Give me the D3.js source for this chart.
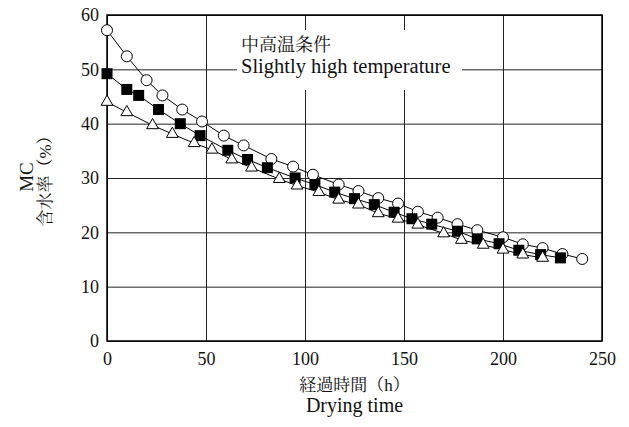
<!DOCTYPE html>
<html>
<head>
<meta charset="utf-8">
<script src="https://cdn.jsdelivr.net/npm/d3@7"></script>
<style>
  body { margin: 0; background: #fff; }
  text { font-family: "Liberation Serif", "Noto Serif CJK JP", "Noto Sans CJK JP", serif; fill: #111; }
</style>
</head>
<body>
<div id="chart"></div>
<script>
// drying curves, slightly high temperature
const circles = [
  {t: 0, mc: 57.2}, {t: 10, mc: 52.4}, {t: 20, mc: 48.0}, {t: 28, mc: 45.2},
  {t: 38, mc: 42.6}, {t: 48, mc: 40.4}, {t: 59, mc: 37.8}, {t: 69, mc: 36.0},
  {t: 83, mc: 33.5}, {t: 94, mc: 32.1}, {t: 104, mc: 30.6}, {t: 117, mc: 28.8},
  {t: 127, mc: 27.6}, {t: 137, mc: 26.3}, {t: 147, mc: 25.3}, {t: 157, mc: 23.8},
  {t: 167, mc: 22.7}, {t: 177, mc: 21.5}, {t: 187, mc: 20.4}, {t: 200, mc: 19.1},
  {t: 210, mc: 17.8}, {t: 220, mc: 17.1}, {t: 230, mc: 16.0}, {t: 240, mc: 15.1}
];

const squares = [
  {t: 0, mc: 49.2}, {t: 10, mc: 46.3}, {t: 16, mc: 45.2}, {t: 26, mc: 42.6},
  {t: 37, mc: 40.0}, {t: 47, mc: 37.8}, {t: 61, mc: 35.1}, {t: 71, mc: 33.4},
  {t: 81, mc: 31.9}, {t: 95, mc: 30.0}, {t: 105, mc: 28.8}, {t: 115, mc: 27.4},
  {t: 125, mc: 26.2}, {t: 135, mc: 25.1}, {t: 145, mc: 23.7}, {t: 154, mc: 22.5},
  {t: 164, mc: 21.5}, {t: 177, mc: 20.2}, {t: 187, mc: 18.8}, {t: 198, mc: 17.9},
  {t: 208, mc: 16.7}, {t: 219, mc: 15.9}, {t: 229, mc: 15.3}
];

const triangles = [
  {t: 0, mc: 44.0}, {t: 10, mc: 42.1}, {t: 23, mc: 39.7}, {t: 33, mc: 38.1},
  {t: 44, mc: 36.4}, {t: 53, mc: 35.2}, {t: 63, mc: 33.4}, {t: 73, mc: 31.9},
  {t: 87, mc: 29.8}, {t: 96, mc: 28.6}, {t: 107, mc: 27.4}, {t: 117, mc: 26.0},
  {t: 127, mc: 25.1}, {t: 137, mc: 23.5}, {t: 147, mc: 22.5}, {t: 157, mc: 21.4},
  {t: 170, mc: 19.8}, {t: 179, mc: 18.6}, {t: 190, mc: 17.7}, {t: 200, mc: 16.8},
  {t: 210, mc: 15.9}, {t: 220, mc: 15.3}
];

const xTicks = [0, 50, 100, 150, 200, 250];
const yTicks = [0, 10, 20, 30, 40, 50, 60];

const margin = {top: 15, right: 27, bottom: 86, left: 107},
    width = 629 - margin.left - margin.right,
    height = 427 - margin.top - margin.bottom;

const svg = d3.select("#chart")
  .append("svg")
    .attr("width", 629)
    .attr("height", 427)
  .append("g")
    .attr("transform", `translate(${margin.left},${margin.top})`);

const x = d3.scaleLinear().domain([0, 250]).range([0, width]);
const y = d3.scaleLinear().domain([0, 60]).range([height, 0]);

// grid
svg.append("g")
  .call(d3.axisBottom(x).tickValues(xTicks).tickSize(-height).tickFormat(""))
  .attr("transform", `translate(0,${height})`)
  .call(g => g.select(".domain").remove())
  .selectAll("line").attr("stroke", "#222").attr("stroke-width", 1);

svg.append("g")
  .call(d3.axisLeft(y).tickValues(yTicks).tickSize(-width).tickFormat(""))
  .call(g => g.select(".domain").remove())
  .selectAll("line").attr("stroke", "#222").attr("stroke-width", 1);

// white box behind the condition label
svg.append("rect")
  .attr("x", 130).attr("y", 15)
  .attr("width", 225).attr("height", 60)
  .attr("fill", "#fff");

svg.append("text")
  .attr("x", 134).attr("y", 36)
  .style("font-size", "18px")
  .text("中高温条件");
svg.append("text")
  .attr("x", 134).attr("y", 58)
  .style("font-size", "20.5px")
  .text("Slightly high temperature");

// frame
svg.append("rect")
  .attr("width", width).attr("height", height)
  .attr("fill", "none").attr("stroke", "#000").attr("stroke-width", 1.5);

// tick labels
const xAxis = svg.append("g")
  .attr("transform", `translate(0,${height})`)
  .call(d3.axisBottom(x).tickValues(xTicks).tickSize(0).tickPadding(11));
xAxis.select(".domain").remove();
xAxis.selectAll("text").style("font-size", "18px").attr("fill", "#111");

const yAxis = svg.append("g")
  .call(d3.axisLeft(y).tickValues(yTicks).tickSize(0).tickPadding(8));
yAxis.select(".domain").remove();
yAxis.selectAll("text").style("font-size", "18px").attr("fill", "#111");

// axis titles
svg.append("text")
  .attr("text-anchor", "middle")
  .attr("x", width / 2).attr("y", height + 50)
  .style("font-size", "17px")
  .text("経過時間（h）");
svg.append("text")
  .attr("text-anchor", "middle")
  .attr("x", width / 2).attr("y", height + 71)
  .style("font-size", "20px")
  .text("Drying time");

const yTitle = svg.append("text")
  .attr("text-anchor", "middle")
  .attr("transform", `translate(-74,162) rotate(-90)`);
yTitle.append("tspan")
  .attr("x", 0).attr("dy", 0)
  .style("font-size", "19px")
  .text("MC");
yTitle.append("tspan")
  .attr("x", 0).attr("dy", 18)
  .style("font-size", "17px")
  .text("含水率（%）");

// lines
const line = d3.line().x(d => x(d.t)).y(d => y(d.mc));
[circles, squares, triangles].forEach(s => {
  svg.append("path")
    .datum(s)
    .attr("d", line)
    .attr("fill", "none")
    .attr("stroke", "#000")
    .attr("stroke-width", 1);
});

// markers
svg.selectAll(".circ")
  .data(circles)
  .join("circle")
    .attr("class", "circ")
    .attr("cx", d => x(d.t))
    .attr("cy", d => y(d.mc))
    .attr("r", 5.5)
    .attr("fill", "#fff")
    .attr("stroke", "#000")
    .attr("stroke-width", 1);

svg.selectAll(".sq")
  .data(squares)
  .join("rect")
    .attr("class", "sq")
    .attr("x", d => x(d.t) - 5.5)
    .attr("y", d => y(d.mc) - 5.5)
    .attr("width", 11)
    .attr("height", 11)
    .attr("fill", "#000");

const tri = d3.symbol().type(d3.symbolTriangle).size(60);
svg.selectAll(".tri")
  .data(triangles)
  .join("path")
    .attr("class", "tri")
    .attr("transform", d => `translate(${x(d.t)},${y(d.mc)})`)
    .attr("d", tri)
    .attr("fill", "#fff")
    .attr("stroke", "#000")
    .attr("stroke-width", 1);
</script>
</body>
</html>
